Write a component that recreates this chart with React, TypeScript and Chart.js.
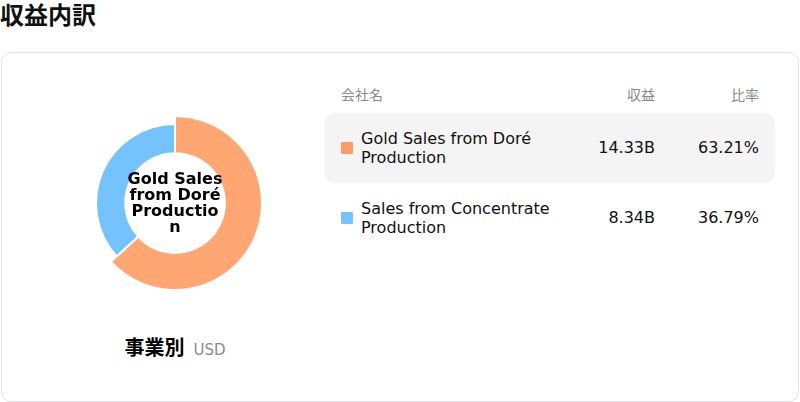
import { Chart, registerables } from "chart.js";
import { useEffect, useRef } from "react";

Chart.register(...registerables);

const FONT = "'DejaVu Sans', 'Noto Sans CJK JP', sans-serif";

// data
const categories = ["Gold Sales from Doré Production", "Sales from Concentrate Production"];
const revenue = [14.33, 8.34];
const revenueLabels = ["14.33B", "8.34B"];
const shares = ["63.21%", "36.79%"];
const colors = ["#FFA673", "#74C3FF"];
const swatchColors = ["#F99C6C", "#74C3FF"];
const highlighted = 0;

// grows the outer radius of one arc (the highlighted segment)
const growArc = {
  id: "growArc",
  afterDatasetUpdate(chart: any, args: any, opts: any) {
    const arc = args.meta.data[opts.index];
    if (arc) arc.outerRadius += opts.amount;
  },
};

function Donut() {
  const canvasRef = useRef<HTMLCanvasElement>(null);
  const chartRef = useRef<Chart | null>(null);

  useEffect(() => {
    if (!canvasRef.current) return;

    chartRef.current = new Chart(canvasRef.current, {
      type: "doughnut",
      data: {
        labels: categories,
        datasets: [
          {
            data: revenue,
            backgroundColor: colors,
            borderColor: "#ffffff",
            borderWidth: 2,
          },
        ],
      },
      options: {
        animation: false,
        responsive: true,
        maintainAspectRatio: false,
        radius: 79,
        cutout: "63%",
        events: [],
        plugins: {
          legend: { display: false },
          tooltip: { enabled: false },
          growArc: { index: highlighted, amount: 8 },
        } as any,
      },
      plugins: [growArc],
    });

    return () => chartRef.current?.destroy();
  }, []);

  return <canvas ref={canvasRef}></canvas>;
}

export default function App() {
  return (
    <div style={{ fontFamily: FONT, color: "#111", width: 800, height: 402, position: "relative" }}>
      <style>{"body{margin:0}"}</style>
      <div style={{ fontSize: 24, fontWeight: 700, lineHeight: "32px", height: 32 }}>収益内訳</div>
      <div
        style={{
          position: "absolute",
          left: 1,
          top: 52,
          width: 796,
          height: 348,
          border: "1px solid #e2e0ea",
          borderRadius: 10,
        }}
      >
        <div style={{ position: "absolute", left: 73, top: 50, width: 200, height: 200 }}>
          <Donut />
          <div
            style={{
              position: "absolute",
              inset: 0,
              display: "flex",
              alignItems: "center",
              justifyContent: "center",
              pointerEvents: "none",
            }}
          >
            <div
              style={{
                width: 96,
                fontSize: 16,
                fontWeight: 700,
                lineHeight: "16px",
                textAlign: "center",
                overflowWrap: "anywhere",
                color: "#000",
              }}
            >
              {categories[highlighted]}
            </div>
          </div>
        </div>
        <div
          style={{
            position: "absolute",
            left: 23,
            top: 283,
            width: 300,
            textAlign: "center",
            lineHeight: "24px",
          }}
        >
          <span style={{ fontSize: 20, fontWeight: 700, color: "#000" }}>事業別</span>
          <span style={{ fontSize: 15, color: "#8a8a8a", marginLeft: 9 }}>USD</span>
        </div>
        <div style={{ position: "absolute", left: 323, top: 30, width: 450 }}>
          <div
            style={{
              display: "grid",
              gridTemplateColumns: "1fr 94px 104px",
              padding: "0 16px",
              height: 25,
              lineHeight: "25px",
              fontSize: 14,
              color: "#8a8a8a",
            }}
          >
            <div>会社名</div>
            <div style={{ textAlign: "right" }}>収益</div>
            <div style={{ textAlign: "right" }}>比率</div>
          </div>
          <div style={{ height: 5 }} />
          {categories.map((name, i) => (
            <div
              key={name}
              style={{
                display: "grid",
                gridTemplateColumns: "1fr 94px 104px",
                alignItems: "center",
                padding: "0 16px",
                height: 70,
                borderRadius: 10,
                background: i === highlighted ? "#f4f4f4" : "transparent",
                fontSize: 16,
                lineHeight: "19.5px",
                color: "#111",
              }}
            >
              <div style={{ display: "flex", alignItems: "center" }}>
                <span
                  style={{
                    width: 12,
                    height: 12,
                    flex: "none",
                    background: swatchColors[i],
                    marginRight: 8,
                    borderRadius: 1,
                  }}
                />
                <span style={{ maxWidth: 200 }}>{name}</span>
              </div>
              <div style={{ textAlign: "right" }}>{revenueLabels[i]}</div>
              <div style={{ textAlign: "right" }}>{shares[i]}</div>
            </div>
          ))}
        </div>
      </div>
    </div>
  );
}
